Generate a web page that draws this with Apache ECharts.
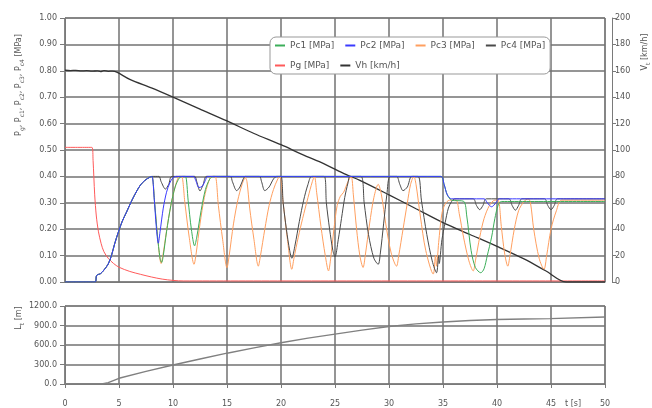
<!DOCTYPE html>
<html><head><meta charset="utf-8">
<script src="https://cdn.jsdelivr.net/npm/echarts@6/dist/echarts.min.js"></script>
<style>html,body{margin:0;padding:0;background:#fff}#c{width:652px;height:408px}</style>
</head><body><div id="c"></div>
<script>
// ---- data (time [s], value) ----
const pcRise = [[0,0],[2.78,0],[2.93,0.025],[3.3,0.032],[3.6,0.045],[4.0,0.068],[4.3,0.1],[4.6,0.145],[4.95,0.19],[5.3,0.23],[5.7,0.265],[6.2,0.31],[6.65,0.345],[7.0,0.368],[7.4,0.385],[7.85,0.397],[8.05,0.40]];

const pc1Rest = [[8.3,0.30],[8.55,0.18],[8.8,0.09],[8.95,0.074],[9.1,0.10],[9.4,0.19],[9.8,0.29],[10.2,0.36],[10.6,0.395],[10.9,0.40],[11.15,0.40],[11.4,0.31],[11.7,0.20],[12.0,0.137],[12.2,0.17],[12.6,0.27],[13.0,0.35],[13.4,0.39],[13.7,0.40],[34.8,0.40],[35.1,0.37],[35.4,0.33],[35.8,0.31],[36.9,0.306],[37.2,0.25],[37.6,0.12],[38.0,0.055],[38.5,0.035],[38.8,0.05],[39.1,0.10],[39.5,0.17],[39.8,0.24],[40.1,0.29],[40.4,0.305],[50,0.305]];

const pc2Rest = [[8.25,0.32],[8.45,0.21],[8.64,0.147],[8.8,0.19],[9.1,0.28],[9.4,0.34],[9.7,0.375],[10.0,0.395],[10.3,0.40],[11.9,0.40],[12.1,0.385],[12.4,0.358],[12.7,0.362],[13.0,0.385],[13.2,0.40],[34.8,0.40],[35.1,0.37],[35.4,0.33],[35.8,0.315],[38.8,0.315],[39.1,0.30],[39.5,0.285],[39.9,0.30],[40.2,0.315],[50,0.315]];

const pc3Rest = [[8.3,0.30],[8.6,0.16],[8.9,0.07],[9.1,0.11],[9.5,0.22],[9.9,0.31],[10.3,0.375],[10.6,0.40],[10.8,0.40],[11.1,0.30],[11.5,0.17],[11.95,0.067],[12.15,0.11],[12.5,0.22],[12.9,0.32],[13.3,0.38],[13.6,0.40],[13.9,0.40],[14.2,0.29],[14.6,0.16],[15.0,0.054],[15.2,0.10],[15.6,0.22],[16.0,0.31],[16.4,0.37],[16.7,0.395],[16.85,0.38],[17.1,0.28],[17.5,0.16],[17.9,0.06],[18.1,0.10],[18.5,0.20],[18.9,0.29],[19.3,0.35],[19.7,0.39],[19.9,0.40],[20.2,0.30],[20.6,0.16],[21.0,0.048],[21.2,0.09],[21.6,0.17],[22.0,0.24],[22.5,0.32],[22.9,0.38],[23.1,0.40],[23.3,0.34],[23.7,0.21],[24.1,0.10],[24.4,0.042],[24.6,0.09],[24.9,0.20],[25.2,0.29],[25.5,0.325],[25.8,0.34],[26.2,0.38],[26.5,0.40],[26.7,0.33],[27.0,0.20],[27.3,0.10],[27.6,0.055],[27.8,0.10],[28.2,0.22],[28.6,0.32],[29.0,0.37],[29.3,0.33],[29.7,0.22],[30.2,0.11],[30.7,0.06],[30.9,0.10],[31.3,0.20],[31.7,0.30],[32.0,0.37],[32.3,0.40],[32.5,0.37],[32.9,0.25],[33.4,0.12],[34.1,0.03],[34.3,0.10],[34.4,0.06],[34.6,0.15],[34.9,0.26],[35.2,0.295],[35.6,0.31],[36.2,0.31],[36.5,0.26],[36.9,0.17],[37.4,0.08],[37.8,0.042],[38.0,0.08],[38.4,0.17],[38.8,0.24],[39.3,0.29],[39.8,0.31],[40.1,0.31],[40.4,0.21],[40.7,0.11],[41.0,0.06],[41.2,0.10],[41.6,0.20],[42.0,0.27],[42.5,0.305],[42.9,0.315],[43.1,0.30],[43.4,0.20],[43.9,0.09],[44.35,0.048],[44.6,0.10],[45.0,0.20],[45.5,0.27],[46.0,0.31],[50,0.31]];

const pc4Rest = [[8.7,0.40],[8.9,0.38],[9.3,0.352],[9.6,0.37],[9.9,0.40],[12.0,0.40],[12.2,0.38],[12.5,0.345],[12.8,0.37],[13.1,0.40],[15.3,0.40],[15.5,0.38],[15.9,0.346],[16.2,0.36],[16.5,0.39],[16.7,0.40],[18.0,0.40],[18.2,0.38],[18.5,0.346],[18.9,0.36],[19.3,0.39],[19.6,0.40],[20.0,0.40],[20.2,0.30],[20.5,0.20],[20.8,0.12],[21.0,0.09],[21.3,0.14],[21.7,0.23],[22.1,0.31],[22.5,0.37],[22.85,0.40],[24.0,0.40],[24.2,0.30],[24.5,0.20],[24.8,0.12],[25.0,0.095],[25.3,0.16],[25.6,0.24],[25.9,0.32],[26.2,0.375],[26.4,0.40],[27.4,0.40],[27.7,0.30],[28.1,0.18],[28.6,0.09],[29.0,0.067],[29.2,0.11],[29.5,0.22],[29.8,0.33],[30.1,0.40],[30.7,0.40],[31.0,0.37],[31.3,0.346],[31.7,0.36],[32.1,0.40],[32.7,0.40],[33.0,0.31],[33.5,0.18],[34.0,0.08],[34.4,0.035],[34.6,0.10],[34.65,0.07],[34.9,0.16],[35.2,0.225],[35.5,0.28],[35.8,0.305],[36.1,0.315],[37.8,0.315],[38.1,0.29],[38.4,0.274],[38.7,0.29],[39.0,0.315],[41.1,0.315],[41.4,0.29],[41.7,0.272],[42.0,0.29],[42.3,0.315],[44.4,0.315],[44.7,0.29],[45.0,0.274],[45.3,0.29],[45.6,0.315],[50,0.315]];

const pgData = [[0,0.51],[2.5,0.51],[2.6,0.46],[2.75,0.33],[2.9,0.25],[3.1,0.19],[3.35,0.145],[3.6,0.115],[4.0,0.09],[4.5,0.07],[5.0,0.056],[6.0,0.04],[7.0,0.029],[8.0,0.019],[9.0,0.011],[10.0,0.006],[11,0.004],[50,0.004]];

const vhData = [[0,160.4],[0.5,160.2],[1,160.3],[1.5,159.9],[2,160.1],[2.5,159.7],[3,160.0],[3.3,159.4],[3.6,160.2],[4,159.6],[4.4,159.8],[4.8,159.0],[6,153.5],[8,147],[10,140],[12.5,131],[15,122],[17.5,112.5],[20,104],[22,96.5],[24,89.5],[26,81.5],[27.3,77],[30,66],[32.5,55.5],[35,45],[37.5,36],[40,27],[42.5,17.5],[44.5,8.5],[46.4,0],[50,0]];

const lData = [[0,0],[3.4,0],[4,20],[5,88],[7.5,195],[10,292],[12.5,385],[15,474],[17.5,556],[20,634],[22.5,705],[25,768],[27.5,828],[30,884],[32.5,925],[35,953],[37.5,978],[40,992],[42.5,1000],[44.9,1006],[45,1030],[50,1030]];

const legendNames = ['Pc1 [MPa]','Pc2 [MPa]','Pc3 [MPa]','Pc4 [MPa]','Pg [MPa]','Vh [km/h]'];

// ---- chart ----
const FONT = 'DejaVu Sans';
const axisCol = '#7a7a7a';
const gridCol = '#727272';
const labelStyle = {color:'#555', fontSize:8, fontFamily:FONT};
const chart = echarts.init(document.getElementById('c'), null, {renderer:'canvas'});

function lineS(name, data, color, y, w, extra) {
  return Object.assign({name, type:'line', data, xAxisIndex:0, yAxisIndex:y, showSymbol:false, symbol:'none',
    smooth:0.3, lineStyle:{color, width:w}, itemStyle:{color}, animation:false, z:3}, extra||{});
}

chart.setOption({
  animation:false,
  backgroundColor:'#fff',
  grid:[
    {left:65, right:47, top:18, height:264, show:true, borderColor:'#888', borderWidth:1},
    {left:65, right:47, top:306, height:78, show:true, borderColor:'#888', borderWidth:1}
  ],
  legend:{
    data:legendNames, left:270, top:37, width:276, padding:[4,5,4,5], itemGap:11,
    itemWidth:10, itemHeight:2, icon:'rect', backgroundColor:'#fff', borderColor:'#999',
    borderWidth:1, borderRadius:6, textStyle:{fontSize:9, fontFamily:FONT, color:'#555'}
  },
  xAxis:[
    {type:'value', gridIndex:0, min:0, max:50, interval:5, offset:5,
     axisLine:{show:true, lineStyle:{color:axisCol, width:1}}, axisTick:{show:false}, axisLabel:{show:false},
     splitLine:{show:true, lineStyle:{color:gridCol, width:1.5}}},
    {type:'value', gridIndex:1, min:0, max:50, interval:5, offset:9,
     axisLine:{show:true, lineStyle:{color:axisCol, width:1}}, axisTick:{show:true, length:4, lineStyle:{color:axisCol}},
     axisLabel:Object.assign({margin:7}, labelStyle),
     splitLine:{show:true, lineStyle:{color:gridCol, width:1.5}}}
  ],
  yAxis:[
    {type:'value', gridIndex:0, min:0, max:1, interval:0.1, offset:5, position:'left',
     axisLine:{show:true, lineStyle:{color:axisCol}}, axisTick:{show:true, length:5, lineStyle:{color:axisCol}},
     axisLabel:Object.assign({margin:3, formatter:v=>v.toFixed(2)}, labelStyle),
     splitLine:{show:true, lineStyle:{color:gridCol, width:1.5}}},
    {type:'value', gridIndex:0, min:0, max:200, interval:20, offset:7, position:'right',
     axisLine:{show:true, lineStyle:{color:axisCol}}, axisTick:{show:true, length:4, lineStyle:{color:axisCol}},
     axisLabel:Object.assign({margin:3}, labelStyle), splitLine:{show:false}},
    {type:'value', gridIndex:1, min:0, max:1200, interval:300, offset:5, position:'left',
     axisLine:{show:true, lineStyle:{color:axisCol}}, axisTick:{show:true, length:5, lineStyle:{color:axisCol}},
     axisLabel:Object.assign({margin:3, formatter:v=>v.toFixed(1)}, labelStyle),
     splitLine:{show:true, lineStyle:{color:gridCol, width:1.5}}}
  ],
  series:[
    lineS('Pg [MPa]', pgData, '#ff5a5a', 0, 1),
    lineS('Vh [km/h]', vhData, '#333333', 1, 1.3),
    lineS('Pc3 [MPa]', pcRise.concat(pc3Rest), '#ff9f5f', 0, 1),
    lineS('Pc4 [MPa]', pcRise.concat(pc4Rest), '#4a4a4a', 0, 1),
    lineS('Pc1 [MPa]', pcRise.concat(pc1Rest), '#3cae5a', 0, 1),
    lineS('Pc2 [MPa]', pcRise.concat(pc2Rest), '#3a3aff', 0, 1),
    {name:'L', type:'line', data:lData, xAxisIndex:1, yAxisIndex:2, showSymbol:false, symbol:'none',
     lineStyle:{color:'#808080', width:1.4}, animation:false}
  ],
  graphic:[
    {type:'text', x:19, y:85, rotation:Math.PI/2, style:{
      text:'P{s|g}, P{s|c1}, P{s|c2}, P{s|c3}, P{s|c4} [MPa]', align:'center', verticalAlign:'middle',
      font:'8px "DejaVu Sans"', fill:'#555',
      rich:{s:{fontSize:6, fontFamily:FONT, fill:'#555', lineHeight:12, verticalAlign:'bottom'}}}},
    {type:'text', x:645, y:52, rotation:Math.PI/2, style:{
      text:'V{s|t} [km/h]', align:'center', verticalAlign:'middle',
      font:'8px "DejaVu Sans"', fill:'#555',
      rich:{s:{fontSize:6, fontFamily:FONT, fill:'#555', lineHeight:12, verticalAlign:'bottom'}}}},
    {type:'text', x:19, y:318, rotation:Math.PI/2, style:{
      text:'L{s|t} [m]', align:'center', verticalAlign:'middle',
      font:'8px "DejaVu Sans"', fill:'#555',
      rich:{s:{fontSize:6, fontFamily:FONT, fill:'#555', lineHeight:12, verticalAlign:'bottom'}}}},
    {type:'text', x:573, y:404, style:{text:'t [s]', align:'center', verticalAlign:'middle',
      font:'8px "DejaVu Sans"', fill:'#555'}}
  ]
});
</script></body></html>
